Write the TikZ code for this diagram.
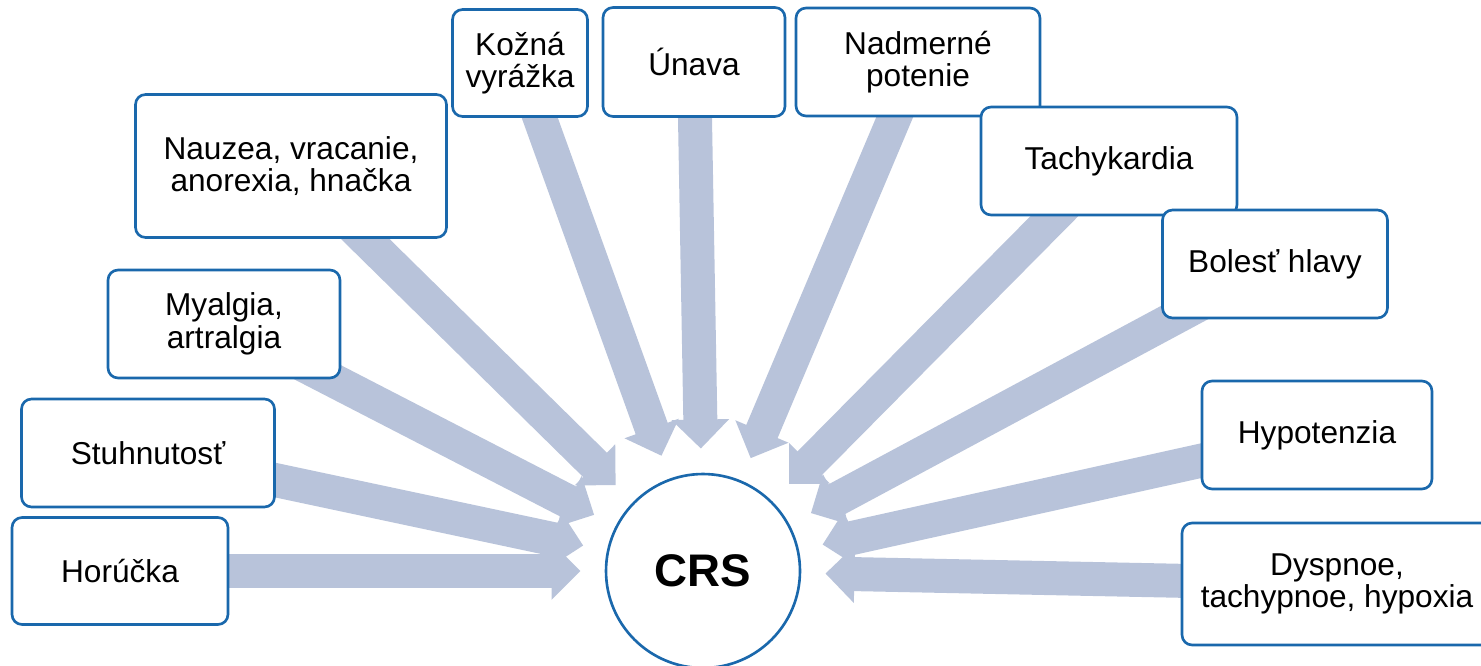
\documentclass[tikz,border=0pt]{standalone}
\usepackage{fontspec}
\setmainfont{Liberation Sans}
\usepackage{tikz}
\usepackage{xcolor}
\usetikzlibrary{arrows.meta,positioning,calc,backgrounds}
\definecolor{BoxLine}{HTML}{1A68AC}
\definecolor{ArrowFill}{HTML}{B8C3DA}
\definecolor{Ink}{HTML}{000000}
\tikzset{
  symptom/.style={draw=BoxLine,fill=white,rounded corners=0.2cm,line width=1.5pt,align=center,font=\fontsize{18}{18.5}\selectfont,text=Ink,minimum height=2.16cm},
  hub/.style={draw=BoxLine,fill=white,circle,line width=1.5pt,minimum size=3.88cm,font=\fontsize{26}{28}\selectfont\bfseries,text=Ink},
  arr/.style={-{Triangle[length=0.58cm,width=1.12cm]},draw=ArrowFill,line width=0.68cm}
}

\begin{document}
\begin{tikzpicture}[x=0.02cm,y=-0.02cm]
  \useasboundingbox (0,0) rectangle (1481,666);
  \clip (0,0) rectangle (1481,666);
  \node[hub] (crs) at (703,571) {CRS};
  % left side
  \node[symptom,minimum width=4.32cm,minimum height=2.14cm] (horucka) at (120,571) {Horúčka};
  \node[symptom,minimum width=5.06cm] (stuhnutost) at (148,453) {Stuhnutosť};
  \node[symptom,minimum width=4.64cm] (myalgia) at (224,324) {Myalgia,\\artralgia};
  \node[symptom,minimum width=6.22cm,minimum height=2.86cm] (nauzea) at (291,166) {Nauzea, vracanie,\\anorexia, hnačka};
  % top
  \node[symptom,minimum width=2.70cm,minimum height=2.14cm] (kozna) at (520,63) {Kožná\\vyrážka};
  \node[symptom,minimum width=3.64cm,minimum height=2.18cm] (unava) at (694,62) {Únava};
  \node[symptom,minimum width=4.88cm] (potenie) at (918,62) {Nadmerné\\potenie};
  % right side
  \node[symptom,minimum width=5.12cm] (tachy) at (1109,161) {Tachykardia};
  \node[symptom,minimum width=4.50cm] (bolest) at (1275,264) {Bolesť hlavy};
  \node[symptom,minimum width=4.60cm] (hypo) at (1317,435) {Hypotenzia};
  \node[symptom,minimum width=6.20cm,minimum height=2.44cm] (dyspnoe) at (1337,584) {Dyspnoe,\\tachypnoe, hypoxia};
  % arrows under the boxes
  \begin{scope}[on background layer]
    \draw[arr] (horucka.center) -- ($(crs.center)!2.45cm!(horucka.center)$);
    \draw[arr] (stuhnutost.center) -- ($(crs.center)!2.45cm!(stuhnutost.center)$);
    \draw[arr] (myalgia.center) -- ($(crs.center)!2.45cm!(myalgia.center)$);
    \draw[arr] (nauzea.center) -- ($(crs.center)!2.45cm!(nauzea.center)$);
    \draw[arr] (kozna.center) -- ($(crs.center)!2.45cm!(kozna.center)$);
    \draw[arr] (unava.center) -- ($(crs.center)!2.45cm!(unava.center)$);
    \draw[arr] (potenie.center) -- ($(crs.center)!2.45cm!(potenie.center)$);
    \draw[arr] (tachy.center) -- ($(crs.center)!2.45cm!(tachy.center)$);
    \draw[arr] (bolest.center) -- ($(crs.center)!2.45cm!(bolest.center)$);
    \draw[arr] (hypo.center) -- ($(crs.center)!2.45cm!(hypo.center)$);
    \draw[arr] (dyspnoe.center) -- ($(crs.center)!2.45cm!(dyspnoe.center)$);
  \end{scope}
\end{tikzpicture}
\end{document}
